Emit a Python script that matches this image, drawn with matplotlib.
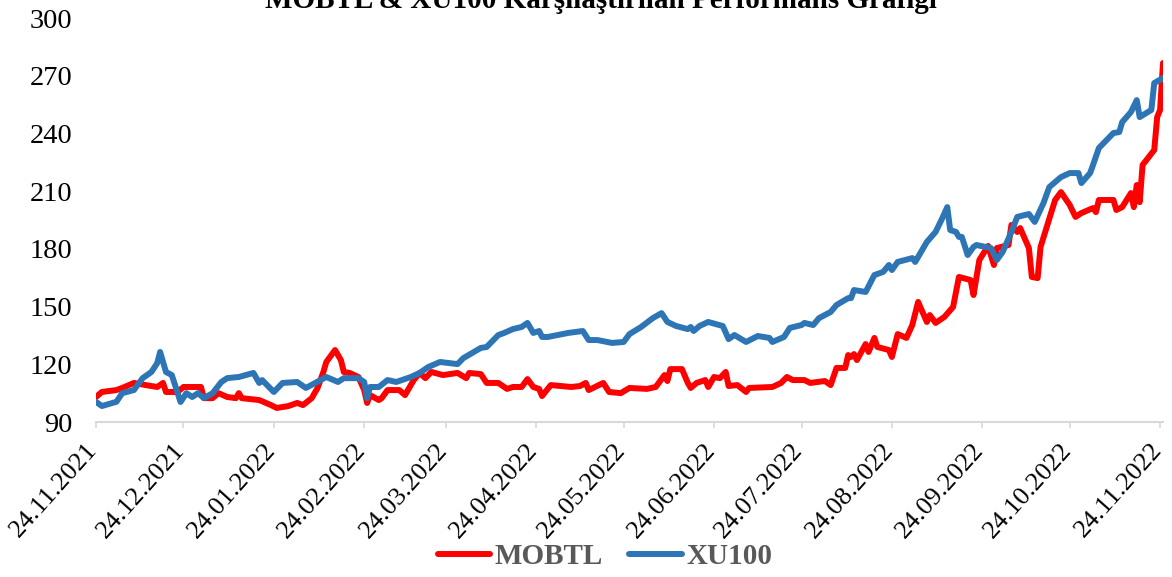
import pandas as pd
import matplotlib
matplotlib.use('Agg')
import matplotlib.pyplot as plt
import matplotlib.transforms as mtransforms

plt.rcParams['font.family'] = ['Liberation Serif', 'DejaVu Serif']

# data: days after 24.11.2021 and index values
start_date = '2021-11-24'

mobtl_days = [0, 2, 7, 9, 13, 17, 21, 23, 24, 28, 30, 36, 37, 40, 42, 45, 48, 49, 50, 56,
              60, 62, 66, 69, 71, 74, 76, 78, 79, 82, 84, 85, 87, 90, 92, 93, 94, 97, 98, 100,
              104, 106, 109, 111, 113, 115, 119, 124, 127, 128, 132, 134, 138, 141, 143, 146, 148, 150, 152, 153,
              156, 163, 166, 168, 169, 174, 176, 180, 183, 189, 192, 195, 196, 197, 201, 203, 204, 206, 209, 210,
              212, 214, 216, 217, 220, 223, 224, 232, 235, 237, 239, 243, 245, 250, 252, 254, 257, 258, 259, 260,
              261, 264, 265, 267, 268, 272, 273, 275, 278, 280, 282, 285, 286, 288, 291, 294, 296, 300, 301, 303,
              306, 308, 309, 313, 314, 316, 317, 320, 321, 323, 324, 326, 329, 331, 334, 336, 338, 342, 343, 344,
              349, 350, 352, 355, 356, 357, 358, 359, 363, 364, 365, 366]
mobtl_values = [103, 105.6, 106.6, 107.7, 110.3, 109.2, 108.2, 110.3, 105.6, 105.6, 108.2, 108.2, 102.4, 102.4, 105, 103, 102.4, 105, 102.4, 101.4,
                98.8, 97.3, 98.3, 99.9, 98.8, 102.4, 107.7, 116, 121.2, 127.4, 122.2, 116, 115.5, 113.4, 106.6, 99.9, 104, 101.4, 102.4, 106.6,
                106.6, 104, 111.8, 115.5, 112.8, 116, 114.4, 115.5, 112.8, 115.5, 114.9, 110.3, 110.3, 107.2, 108.2, 108.2, 112.3, 108.2, 107.2, 103.5,
                109.2, 108.2, 108.7, 110.3, 106.6, 110.3, 105.6, 105, 107.7, 107.2, 108.2, 114.4, 111.3, 117.5, 117.5, 110.3, 107.7, 110.3, 111.8, 108.2,
                113.4, 112.8, 116, 108.7, 109.2, 105.6, 107.7, 108.2, 110.3, 113.4, 111.8, 111.8, 110.3, 111.3, 109.2, 118.1, 118.1, 124.8, 123.8, 125.3,
                122.2, 130.5, 126.4, 133.7, 129, 127.4, 123.8, 135.7, 133.7, 140.4, 152.4, 142, 145.6, 141.5, 144.6, 149.8, 165.4, 163.8, 156, 174.2,
                181.5, 171.6, 180.4, 182, 192.4, 188.8, 190.8, 180.4, 165.4, 164.8, 181, 190.8, 205.4, 209.5, 202.8, 196.6, 198.6, 201.2, 199.1, 205.4,
                205.4, 200.2, 201.7, 209, 201.7, 213.2, 204.3, 223.6, 231.4, 248.5, 252.2, 276.6]

xu100_days = [0, 2, 7, 9, 13, 16, 19, 21, 22, 24, 26, 29, 31, 33, 35, 37, 40, 43, 45, 49,
              54, 56, 57, 61, 64, 69, 72, 77, 79, 83, 85, 90, 92, 93, 94, 97, 100, 103, 108, 111,
              114, 118, 124, 126, 132, 134, 138, 140, 143, 146, 148, 150, 152, 153, 155, 162, 167, 169, 172, 177,
              181, 183, 187, 191, 194, 196, 199, 203, 204, 205, 207, 210, 215, 217, 219, 223, 227, 231, 232, 236,
              238, 242, 243, 246, 248, 252, 254, 258, 259, 260, 264, 267, 270, 272, 273, 275, 280, 281, 283, 285,
              288, 290, 292, 293, 295, 296, 297, 299, 301, 302, 307, 309, 311, 314, 316, 320, 322, 325, 327, 331,
              334, 337, 338, 341, 342, 344, 349, 351, 352, 355, 357, 358, 362, 363, 366]
xu100_values = [100.5, 98.3, 100.5, 105, 106.6, 112.8, 116, 120.6, 126.4, 116, 114.4, 100.4, 105, 103, 105, 102.4, 105, 110.8, 112.8, 113.4,
                115.5, 110.3, 111.8, 105.6, 110.3, 110.8, 107.7, 111.8, 113.4, 110.8, 112.8, 112.8, 110.8, 102.4, 108.2, 108.2, 111.8, 110.8, 113.4, 115.5,
                118.6, 121.2, 120.1, 123.2, 128.5, 129, 135.2, 136.3, 138.3, 139.4, 141.5, 136.3, 137.3, 134.2, 134.2, 136.3, 137.3, 132.6, 132.6, 131.1,
                131.6, 135.7, 139.4, 144, 146.6, 142, 139.9, 138.3, 139.4, 137.3, 139.9, 142, 139.9, 133.1, 135.2, 131.6, 134.7, 133.7, 131.6, 134.2,
                138.9, 140.4, 141.5, 140.4, 144, 147.2, 150.8, 154.4, 154.4, 158.6, 157.6, 166.4, 168, 171.6, 169, 173.2, 175.2, 173.2, 178.4, 183.6,
                188.8, 195, 201.7, 189.8, 188.8, 186.2, 186.2, 176.8, 181, 182, 180.4, 174.2, 178.4, 188.8, 196.6, 198.1, 194, 203.8, 212.1, 217.3,
                219.4, 219.4, 214.2, 219.4, 223.6, 232.4, 240.2, 240.7, 245.9, 251.1, 257.3, 248.5, 252.2, 266.2, 268.8]

tick_labels = ['24.11.2021', '24.12.2021', '24.01.2022', '24.02.2022', '24.03.2022', '24.04.2022',
               '24.05.2022', '24.06.2022', '24.07.2022', '24.08.2022', '24.09.2022', '24.10.2022',
               '24.11.2022']
y_ticks = [90, 120, 150, 180, 210, 240, 270, 300]

t0 = pd.Timestamp(start_date)
mobtl_dates = t0 + pd.to_timedelta(mobtl_days, unit='D')
xu100_dates = t0 + pd.to_timedelta(xu100_days, unit='D')
tick_dates = pd.to_datetime(tick_labels, format='%d.%m.%Y')

fig = plt.figure(figsize=(11.72, 5.77), dpi=100)
ax = fig.add_axes([96 / 1172, 1 - 422 / 577, 1067 / 1172, 404 / 577])

ax.plot(mobtl_dates, mobtl_values, color='#FF0000', lw=4.3, label='MOBTL',
        solid_joinstyle='round', solid_capstyle='round')
ax.plot(xu100_dates, xu100_values, color='#2E75B6', lw=4.3, label='XU100',
        solid_joinstyle='round', solid_capstyle='round')

ax.set_xlim(t0, t0 + pd.Timedelta(days=366))
ax.set_ylim(90, 300)
ax.set_yticks(y_ticks)
ax.set_xticks(tick_dates)
ax.set_xticklabels(tick_labels, rotation=48, ha='right', va='top')

for s in ['left', 'right', 'top']:
    ax.spines[s].set_visible(False)
ax.spines['bottom'].set_color('#D9D9D9')
ax.spines['bottom'].set_linewidth(1.5)
ax.tick_params(axis='x', length=4.5, width=1.2, color='#D9D9D9', pad=8, labelsize=19)
ax.tick_params(axis='y', length=0, pad=17, labelsize=20.5)

# nudge the rotated date labels a little to the right, like the original
shift = mtransforms.ScaledTranslation(0.06, 0, fig.dpi_scale_trans)
for lbl in ax.get_xticklabels():
    lbl.set_transform(lbl.get_transform() + shift)

fig.text(601 / 1172, 1 - 8 / 577, 'MOBTL & XU100 Karşılaştırılan Performans Grafiği',
         ha='center', va='baseline', fontsize=21, fontweight='bold')

leg = fig.legend(loc='center', bbox_to_anchor=(605 / 1172, 1 - 557 / 577), ncol=2,
                 frameon=False, handlelength=1.8, handletextpad=0.15, columnspacing=0.9,
                 prop={'size': 21, 'weight': 'bold'})
for txt in leg.get_texts():
    txt.set_color('#595959')

fig.savefig('out.png', dpi=100)
